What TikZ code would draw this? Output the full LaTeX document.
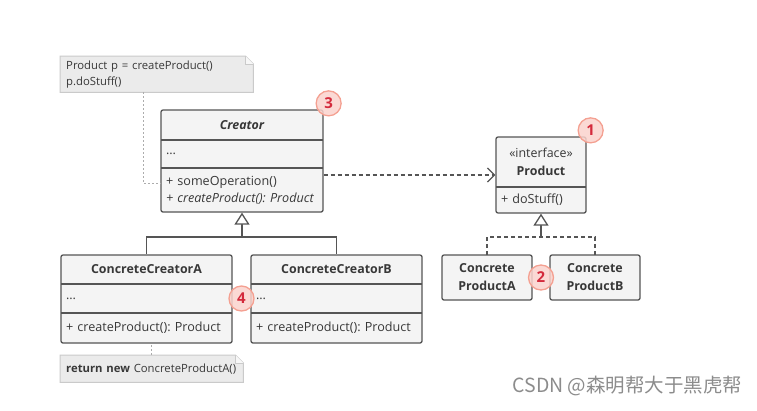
\documentclass[tikz,border=0pt]{standalone}
\usepackage{fontspec}
\setmainfont{Open Sans}
\newfontfamily\cjkfont{Noto Sans CJK SC}
\usetikzlibrary{positioning,fit,calc,arrows.meta,backgrounds}
\definecolor{linec}{HTML}{555555}
\definecolor{boxc}{HTML}{F4F4F4}
\definecolor{textc}{HTML}{383838}
\definecolor{notec}{HTML}{EBEBEB}
\definecolor{notel}{HTML}{CACACA}
\definecolor{badgef}{HTML}{FAD2CC}
\definecolor{badgel}{HTML}{F4A091}
\definecolor{badget}{HTML}{D42A3C}
\frenchspacing

\begin{document}
\begin{tikzpicture}[x=1pt,y=-1pt,
font=\fontsize{12.6}{15}\selectfont,
text=textc,
part/.style={
  inner xsep=5pt,
  inner ysep=0pt,
  outer sep=0pt,
  align=left
},
head/.style={
  part,
  align=center,
  font=\fontsize{12.4}{18}\selectfont\bfseries
},
frame/.style={
  draw=linec,
  fill=boxc,
  line width=1.3pt,
  rounded corners=2pt,
  inner sep=0pt
},
sep/.style={draw=linec, line width=1.3pt},
note/.style={
  inner xsep=6pt,
  inner ysep=0pt,
  align=left,
  anchor=north west,
  font=\fontsize{11.3}{16}\selectfont
},
notebox/.style={fill=notec, draw=notel, line width=1pt},
noteline/.style={draw=notel!85!black, line width=1pt, dash pattern=on 2pt off 2pt},
gen/.style={draw=linec, line width=1.3pt},
genhead/.style={-{Triangle[open, length=12pt, width=15pt, fill=white]}},
dep/.style={
  draw=linec,
  line width=1.3pt,
  dash pattern=on 4pt off 3pt,
  -{Straight Barb[length=7pt, width=14pt]}
},
badge/.style={
  circle,
  minimum size=25pt,
  inner sep=0pt,
  draw=badgel,
  line width=1.3pt,
  fill=badgef,
  fill opacity=0.85,
  text opacity=1,
  text=badget,
  font=\fontsize{15}{15}\selectfont\bfseries
}
]
\useasboundingbox (0,0) rectangle (757,410);

\node[note, text width=181pt, minimum height=36pt] (note1) at (60,56)
  {Product p = createProduct()\\p.doStuff()};

\node[head, text width=152pt, minimum height=30pt, anchor=north west,
  font=\fontsize{12.4}{15}\selectfont\bfseries\itshape] (cr-head) at (161,110)
  {Creator};
\node[part, text width=152pt, minimum height=28pt, below=0pt of cr-head] (cr-attr)
  {...};
\node[part, text width=152pt, minimum height=44pt, below=0pt of cr-attr,
  font=\fontsize{12.6}{17}\selectfont] (cr-ops)
  {+ someOperation()\\\textit{+ createProduct(): Product}};

\node[head, text width=80pt, minimum height=50pt, anchor=north west] (pr-head) at (496,137)
  {{\mdseries«interface»}\\Product};
\node[part, text width=80pt, minimum height=26pt, below=0pt of pr-head] (pr-ops)
  {+ doStuff()};

\node[head, text width=161pt, minimum height=29pt, anchor=north west] (cca-head) at (61,255)
  {ConcreteCreatorA};
\node[part, text width=161pt, minimum height=29pt, below=0pt of cca-head] (cca-attr)
  {...};
\node[part, text width=161pt, minimum height=30pt, below=0pt of cca-attr] (cca-ops)
  {+ createProduct(): Product};

\node[head, text width=161pt, minimum height=29pt, anchor=north west] (ccb-head) at (251,255)
  {ConcreteCreatorB};
\node[part, text width=161pt, minimum height=29pt, below=0pt of ccb-head] (ccb-attr)
  {...};
\node[part, text width=161pt, minimum height=30pt, below=0pt of ccb-attr] (ccb-ops)
  {+ createProduct(): Product};

\node[frame, head, text width=80pt, minimum height=45pt] (cpa) at (487,277.5)
  {Concrete\\ProductA};
\node[frame, head, text width=80pt, minimum height=45pt] (cpb) at (595,277.5)
  {Concrete\\ProductB};

\node[note, text width=171pt, minimum height=27pt] (note2) at (60,355)
  {\textbf{return new} ConcreteProductA()};

\begin{scope}[on background layer]
\node[frame, fit=(cr-head)(cr-ops)] (creator) {};
\node[frame, fit=(pr-head)(pr-ops)] (product) {};
\node[frame, fit=(cca-head)(cca-ops)] (cca) {};
\node[frame, fit=(ccb-head)(ccb-ops)] (ccb) {};
\draw[notebox] (note1.south west) -- (note1.north west) -- ([xshift=-8pt]note1.north east)
  -- ([yshift=-8pt]note1.north east) -- (note1.south east) -- cycle;
\draw[notebox, fill=notec!40!white] ([xshift=-8pt]note1.north east) |- ([yshift=-8pt]note1.north east);
\draw[notebox] (note2.south west) -- (note2.north west) -- ([xshift=-8pt]note2.north east)
  -- ([yshift=-8pt]note2.north east) -- (note2.south east) -- cycle;
\draw[notebox, fill=notec!40!white] ([xshift=-8pt]note2.north east) |- ([yshift=-8pt]note2.north east);
\end{scope}

\foreach \c in {cr-head,cr-attr,pr-head,cca-head,cca-attr,ccb-head,ccb-attr}
  \draw[sep] (\c.south west) -- (\c.south east);

\coordinate (n1-foot) at (143,92);
\draw[noteline] (n1-foot) |- ([yshift=7pt]cr-ops.west);
\draw[noteline] (note2.north) -- (note2.north |- cca.south);

\draw[dep] (product.west -| creator.east) -- (product.west);

\coordinate (cr-join) at (242,237);
\draw[gen] (cca.north) |- (cr-join) -| (ccb.north);
\draw[gen, genhead] (cr-join) -- (creator.south);

\coordinate (pr-join) at (541,237);
\draw[gen, dash pattern=on 4pt off 3pt] (cpa.north) |- (pr-join) -| (cpb.north);
\draw[gen, genhead] (pr-join) -- (product.south);

\node[badge] (b3) at ([xshift=5pt, yshift=6pt]creator.north east) {3};
\node[badge] (b1) at ([xshift=4pt, yshift=6pt]product.north east) {1};
\node[badge] (b2) at ($(cpa.east)!0.5!(cpb.west)$) {2};
\node[badge] (b4) at ($(cca-attr.east)!0.5!(ccb-attr.west)$) {4};

\node[text=black!45, font=\cjkfont\fontsize{19.5}{19.5}\selectfont, anchor=west] (mark) at (509,386)
  {CSDN @森明帮大于黑虎帮};
\end{tikzpicture}
\end{document}
